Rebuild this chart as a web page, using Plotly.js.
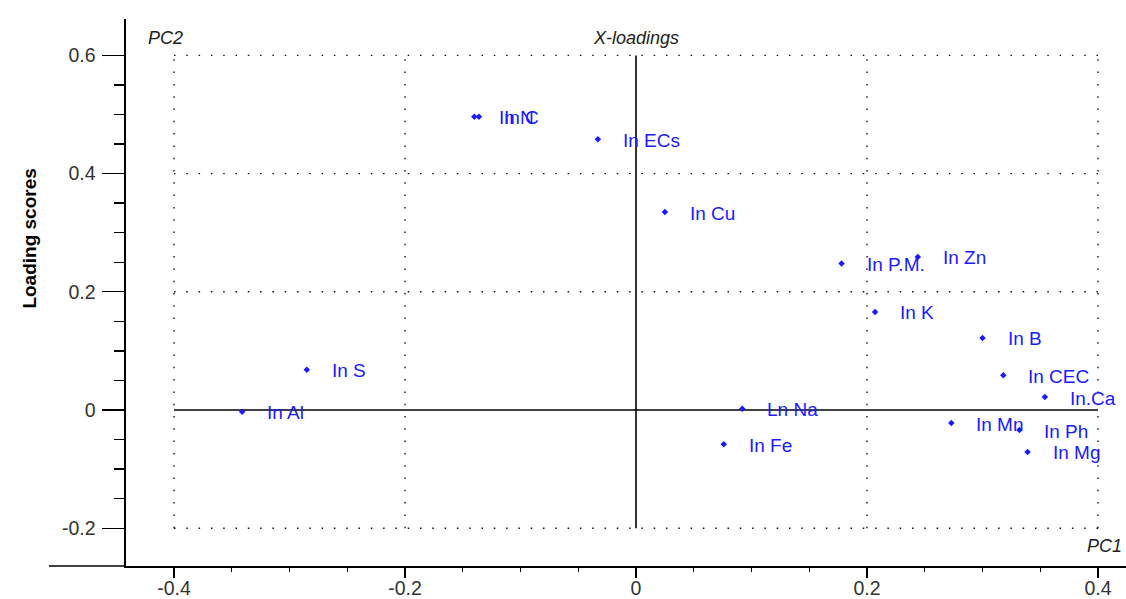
<!DOCTYPE html>
<html>
<head>
<meta charset="utf-8">
<script src="https://cdn.plot.ly/plotly-3.0.1.min.js"></script>
<style>html,body{margin:0;padding:0;background:#fff;}#chart{width:1126px;height:599px;}</style>
</head>
<body>
<div id="chart"></div>
<script>
// Data
var labels = ["In N", "In C", "In ECs", "In Cu", "In P.M.", "In Zn", "In K", "In B", "In CEC", "In.Ca", "In Mn", "In Ph", "In Mg", "Ln Na", "In Fe", "In S", "In Al"];
var pc1 = [-0.140, -0.136, -0.033, 0.025, 0.178, 0.244, 0.207, 0.300, 0.318, 0.354, 0.273, 0.332, 0.339, 0.092, 0.076, -0.285, -0.341];
var pc2 = [0.496, 0.496, 0.458, 0.335, 0.248, 0.259, 0.166, 0.122, 0.059, 0.022, -0.022, -0.034, -0.071, 0.002, -0.058, 0.068, -0.003];
var xTicks = [-0.4, -0.2, 0, 0.2, 0.4];
var xTickLabels = ["-0.4", "-0.2", "0", "0.2", "0.4"];
var yTicks = [-0.2, 0, 0.2, 0.4, 0.6];
var yTickLabels = ["-0.2", "0", "0.2", "0.4", "0.6"];
var xMinor = [-0.35, -0.3, -0.25, -0.15, -0.1, -0.05, 0.05, 0.1, 0.15, 0.25, 0.3, 0.35];
var yMinor = [-0.15, -0.1, -0.05, 0.05, 0.1, 0.15, 0.25, 0.3, 0.35, 0.45, 0.5, 0.55];

var blue = "#1a1aff";
var font = "Liberation Sans, Arial, sans-serif";

var trace = {
  type: "scatter", mode: "markers",
  x: pc1, y: pc2, text: labels, hoverinfo: "text",
  marker: {symbol: "diamond", size: 5, color: blue},
  cliponaxis: false
};

var annotations = labels.map(function(t, i){
  return {x: pc1[i], y: pc2[i], xref: "x", yref: "y", text: t, showarrow: false,
    xanchor: "left", yanchor: "middle", xshift: 23, yshift: -1,
    font: {family: font, size: 19, color: blue}};
});
annotations.push({xref: "paper", yref: "y", x: -0.096, y: 0.29, text: "<b>Loading scores</b>", textangle: -90,
  xanchor: "center", yanchor: "middle",
  showarrow: false, font: {family: font, size: 19, color: "#000"}});
annotations.push({xref: "paper", yref: "paper", x: 0.039, y: 0.965, text: "<i>PC2</i>", showarrow: false,
  xanchor: "center", yanchor: "middle",
  font: {family: font, size: 18, color: "#222"}});
annotations.push({xref: "x", yref: "paper", x: 0, y: 0.965, text: "<i>X-loadings</i>", showarrow: false,
  xanchor: "center", yanchor: "middle",
  font: {family: font, size: 18, color: "#222"}});
annotations.push({xref: "paper", yref: "paper", x: 0.978, y: 0.037, text: "<i>PC1</i>", showarrow: false,
  xanchor: "center", yanchor: "middle",
  font: {family: font, size: 18, color: "#222"}});

var dotLine = {color: "#111", width: 1.4, dash: "1.5px,10.8px"};
var shapes = [];
var xmin = xTicks[0], xmax = xTicks[xTicks.length-1];
var ymin = yTicks[0], ymax = yTicks[yTicks.length-1];
xTicks.forEach(function(v){
  if (v === 0) return;
  shapes.push({type: "line", xref: "x", yref: "y", x0: v, x1: v, y0: ymin, y1: ymax, line: dotLine, layer: "below"});
});
yTicks.forEach(function(v){
  if (v === 0) return;
  shapes.push({type: "line", xref: "x", yref: "y", x0: xmin, x1: xmax, y0: v, y1: v, line: dotLine, layer: "below"});
});
shapes.push({type: "line", xref: "x", yref: "y", x0: 0, x1: 0, y0: ymin, y1: ymax, line: {color: "#000", width: 1.6}, layer: "below"});
shapes.push({type: "line", xref: "x", yref: "y", x0: xmin, x1: xmax, y0: 0, y1: 0, line: {color: "#000", width: 1.6}, layer: "below"});
// extension of x axis line to the left of the y axis
shapes.push({type: "line", xref: "paper", yref: "paper", x0: -0.077, x1: 0, y0: 0, y1: 0, line: {color: "#000", width: 1.6}});

var layout = {
  width: 1126, height: 599,
  margin: {l: 126, r: 0, t: 19, b: 33, pad: 0},
  paper_bgcolor: "#fff", plot_bgcolor: "#fff",
  showlegend: false,
  xaxis: {
    range: [-0.44156, 0.42424], showgrid: false, zeroline: false,
    showline: true, linecolor: "#000", linewidth: 1.6,
    tickmode: "array", tickvals: xTicks, ticktext: xTickLabels,
    ticks: "outside", ticklen: 10, tickwidth: 1.4, tickcolor: "#000",
    ticklabelstandoff: -6,
    minor: {tickmode: "array", tickvals: xMinor, ticks: "outside", ticklen: 4, tickwidth: 1.4, tickcolor: "#000", showgrid: false},
    tickfont: {family: font, size: 19.5, color: "#333"}
  },
  yaxis: {
    range: [-0.26396, 0.6616], showgrid: false, zeroline: false,
    showline: true, linecolor: "#000", linewidth: 1.6,
    tickmode: "array", tickvals: yTicks, ticktext: yTickLabels,
    ticks: "outside", ticklen: 22, tickwidth: 1.4, tickcolor: "#000",
    ticklabelstandoff: 3,
    minor: {tickmode: "array", tickvals: yMinor, ticks: "outside", ticklen: 10, tickwidth: 1.4, tickcolor: "#000", showgrid: false},
    tickfont: {family: font, size: 19.5, color: "#333"}
  },
  shapes: shapes,
  annotations: annotations
};

Plotly.newPlot("chart", [trace], layout, {displayModeBar: false, staticPlot: true});
</script>
</body>
</html>
